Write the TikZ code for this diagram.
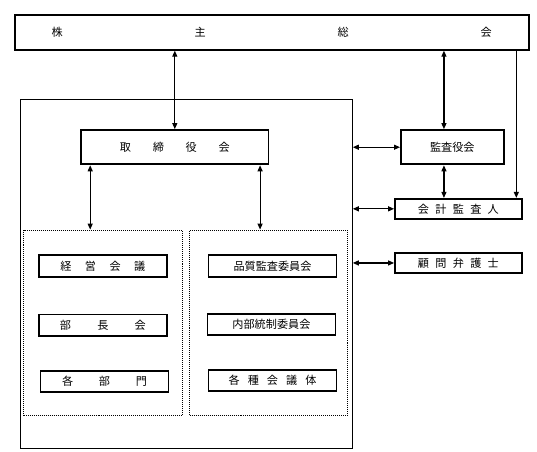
\documentclass[tikz,border=0pt]{standalone}
\usepackage{fontspec}
\newfontfamily\jpfont{Noto Sans CJK JP}
\usetikzlibrary{positioning, arrows.meta}
\newcommand{\spr}[2]{\makebox[#1][s]{#2}}

\begin{document}
\begin{tikzpicture}[
  x=0.03cm, y=-0.03cm,
  font=\jpfont\fontsize{9.5}{11}\selectfont,
  >={Triangle[length=1.8mm, width=1.5mm]},
  box/.style={rectangle, draw, line width=1.6pt, inner sep=0pt, anchor=north west},
  grp/.style={rectangle, draw, densely dotted, line width=0.7pt, anchor=north west,
              minimum height=5.57cm},
  item/.style={box, minimum width=3.84cm, minimum height=0.64cm},
  link/.style={<->, line width=1pt},
]
\useasboundingbox (0,0) rectangle (537,451);

% ===== Shareholders and company frame =====================================
\node[box, minimum width=15.42cm, minimum height=1.05cm] (soukai) at (13.8,13.8)
  {\spr{13.2cm}{株\hfill 主\hfill 総\hfill 会}};
\node[rectangle, draw, line width=1pt, anchor=north west,
      minimum width=9.96cm, minimum height=10.47cm] (honsha) at (19.6,99.1) {};

% ===== Board and auditors ==================================================
\node[box, minimum width=5.62cm, minimum height=1.03cm] (torishimari) at (80.2,129.1)
  {\spr{3.3cm}{取\hfill 締\hfill 役\hfill 会}};
\node[box, minimum width=3.08cm, minimum height=1.03cm] (kansayaku) at (400,129.1) {監査役会};
\node[box, minimum width=3.8cm, minimum height=0.6cm] (kaikei) at (394.1,197.9)
  {\spr{2.43cm}{会\hfill 計\hfill 監\hfill 査\hfill 人}};
\node[box, minimum width=3.8cm, minimum height=0.62cm] (komon) at (394.1,251.7)
  {\spr{2.43cm}{顧\hfill 問\hfill 弁\hfill 護\hfill 士}};

% ===== Executive side ======================================================
\node[grp, minimum width=4.75cm] (grpL) at (23.4,229.6) {};
\node[item] (keiei) at (37.9,254.4) {\spr{2.55cm}{経\hfill 営\hfill 会\hfill 議}};
\node[item] (buchou) at (37.9,313.6) {\spr{2.58cm}{部\hfill 長\hfill 会}};
\node[item] (kakubu) at (39.6,369.7) {\spr{2.55cm}{各\hfill 部\hfill 門}};

% ===== Committee side ======================================================
\node[grp, minimum width=4.73cm] (grpR) at (189.3,229.6) {};
\node[item] (hinshitsu) at (207.6,254.4) {品質監査委員会};
\node[item] (naibu) at (206.5,313) {内部統制委員会};
\node[item] (kakushu) at (207.6,368.7) {\spr{2.64cm}{各\hfill 種\hfill 会\hfill 議\hfill 体}};

% ===== Connectors ==========================================================
\draw[link] (torishimari.north) -- (torishimari.north |- soukai.south);
\draw[link] ([xshift=-0.25cm]kansayaku.north) -- ([xshift=-0.25cm]kansayaku.north |- soukai.south);
\draw[link] ([xshift=-0.25cm]kansayaku.south) -- ([xshift=-0.25cm]kansayaku.south |- kaikei.north);
\draw[->, line width=1pt] ([xshift=-0.19cm]kaikei.north east |- soukai.south) -- ([xshift=-0.19cm]kaikei.north east);
\draw[link] (kansayaku.west -| honsha.east) -- (kansayaku.west);
\draw[link] (kaikei.west -| honsha.east) -- (kaikei.west);
\draw[link] (komon.west -| honsha.east) -- (komon.west);
\draw[link] ([xshift=0.3cm]torishimari.south west) -- ([xshift=0.3cm]torishimari.south west |- grpL.north);
\draw[link] ([xshift=-0.28cm]torishimari.south east) -- ([xshift=-0.28cm]torishimari.south east |- grpR.north);

\end{tikzpicture}
\end{document}
